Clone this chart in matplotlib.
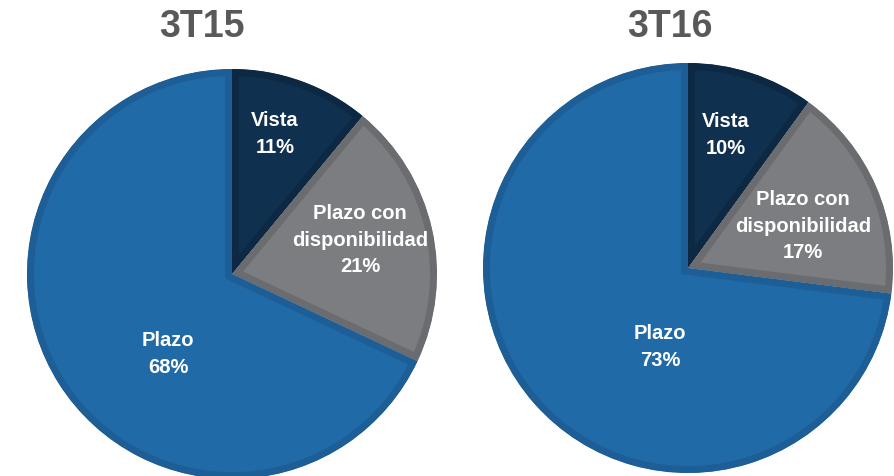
import matplotlib
matplotlib.use("Agg")
import matplotlib.pyplot as plt

plt.rcParams['font.family'] = ['Liberation Sans', 'DejaVu Sans']

# ---- data ----
categories = ["Vista", "Plazo con\ndisponibilidad", "Plazo"]
periods = ["3T15", "3T16"]
values_3T15 = [11, 21, 68]
values_3T16 = [10, 17, 73]

# ---- style / layout ----
fill_colors = ["#10304f", "#7b7d80", "#216aa8"]
edge_colors = ["#0c2843", "#6a6c6f", "#1e5e96"]
W, H = 895, 476
centers = [(232, 274), (688, 268)]
radius = 205
title_pos = [(202, 27), (670, 27)]
# label positions (x, y) in pixels for each pie
label_pos = [
    [(275, 134), (360, 240), (168, 354)],
    [(726, 135), (803, 226), (660, 347)],
]

fig = plt.figure(figsize=(W / 100, H / 100), dpi=100)
ax = fig.add_axes([0, 0, 1, 1])

for k, vals in enumerate([values_3T15, values_3T16]):
    cx, cy = centers[k]
    wedges, _ = ax.pie(vals, colors=fill_colors, startangle=90, counterclock=False,
                       center=(cx, H - cy), radius=radius,
                       wedgeprops=dict(linewidth=10))
    for w, ec in zip(wedges, edge_colors):
        w.set_edgecolor(ec)
        w.set_clip_on(True)
        w.set_clip_path(w.get_path(), w.get_transform())
    for (lx, ly), cat, v in zip(label_pos[k], categories, vals):
        ax.text(lx, H - ly, f"{cat}\n{v}%", ha="center", va="center", color="white",
                fontsize=14.5, fontweight="bold", linespacing=1.5)
    tx, ty = title_pos[k]
    ax.text(tx, H - ty, periods[k], ha="center", va="center", color="#595959",
            fontsize=27, fontweight="bold")

ax.set_xlim(0, W)
ax.set_ylim(0, H)
ax.set_aspect("equal")
ax.axis("off")
fig.savefig("out.png", dpi=100)
